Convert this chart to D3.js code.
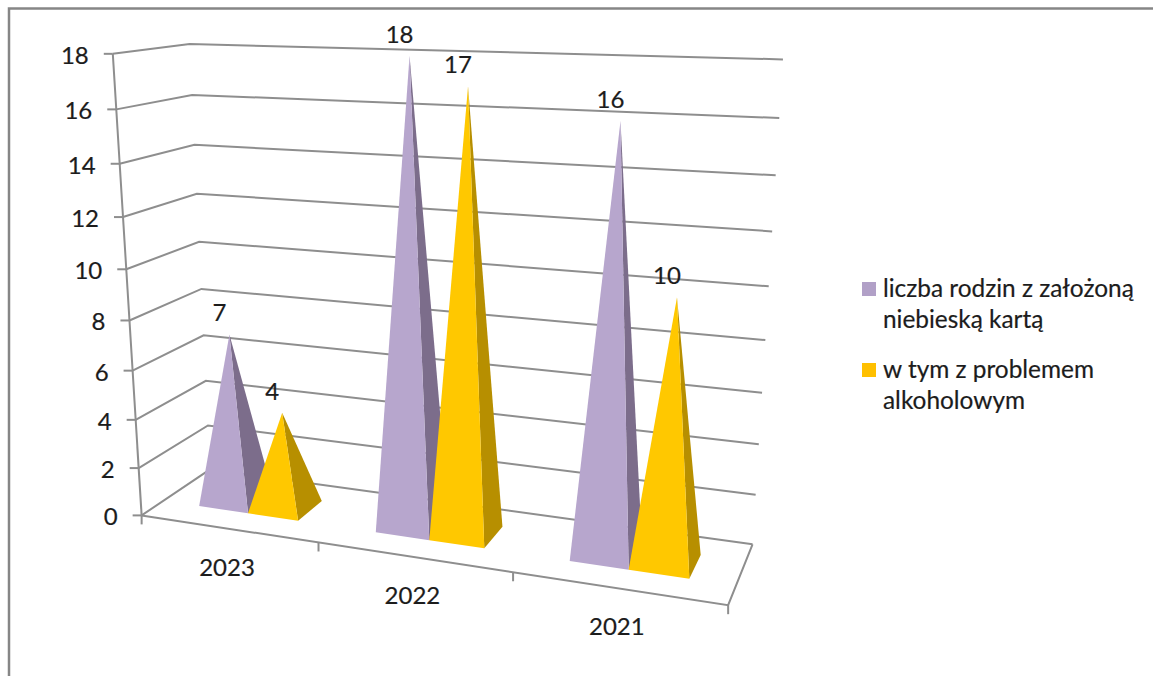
<!DOCTYPE html>
<html>
<head>
<meta charset="utf-8">
<script src="https://cdn.jsdelivr.net/npm/d3@7"></script>
<style>
body { margin: 0; background: #fff; }
svg { display: block; }
text { font-family: Lato, "Noto Sans", sans-serif; fill: #1c1c1c; stroke: #1c1c1c; stroke-width: 0.2px; }
</style>
</head>
<body>
<div id="chart-area"></div>
<script>
let width = 1153, height = 676;

// data
let categories = ["2023", "2022", "2021"];
let seriesNames = ["liczba rodzin z założoną niebieską kartą", "w tym z problemem alkoholowym"];
let rodziny = [7, 18, 16];
let alkohol = [4, 17, 10];
let yTicks = [0, 2, 4, 6, 8, 10, 12, 14, 16, 18];
let legendLines = [["liczba rodzin z założoną", "niebieską kartą"], ["w tym z problemem", "alkoholowym"]];

let frontColors = ["#b7a6cd", "#ffc800"];
let sideColors = ["#7c6d8b", "#b78f00"];
let legendColors = ["#b1a0c7", "#ffc000"];
let gridColor = "#8e8e8e";

let svg = d3.select("#chart-area").append("svg")
    .attr("width", width)
    .attr("height", height);

// scales work in box units, 0..1 on each side of the 3d box
let x0 = d3.scaleBand().domain(categories).range([0, 1]);
let x1 = d3.scaleBand().domain(d3.range(2)).range([0, x0.bandwidth()]).paddingOuter(0.75);
let y = d3.scaleLinear().domain([0, 18]).range([0, 1]);
let z = d3.scaleLinear().domain([0, 1]).range([0.3, 0.7]);

// where the box sits on the page: [x, y, z, screenX, screenY]
let calib = [
    [0, 0, 0, 142, 515], [0, 1, 0, 113, 54], [0, 8 / 18, 0, 129, 320],
    [0, 0, 1, 211, 470], [0, 1, 1, 190, 44], [0, 8 / 18, 1, 200, 289],
    [1, 0, 1, 752, 544], [1, 1, 1, 783, 60], [1, 8 / 18, 1, 766, 339],
    [1, 0, 0, 728, 606]
];

// least squares fit of the 3x4 camera matrix
function fitCamera(pts) {
    let n = 11, A = d3.range(n).map(() => new Array(n + 1).fill(0));
    function add(row, rhs) {
        for (let i = 0; i < n; i++) {
            for (let j = 0; j < n; j++) A[i][j] += row[i] * row[j];
            A[i][n] += row[i] * rhs;
        }
    }
    pts.forEach(([a, b, c, u, v]) => {
        add([a, b, c, 1, 0, 0, 0, 0, -u * a, -u * b, -u * c], u);
        add([0, 0, 0, 0, a, b, c, 1, -v * a, -v * b, -v * c], v);
    });
    for (let i = 0; i < n; i++) {
        let p = i;
        for (let r = i + 1; r < n; r++) if (Math.abs(A[r][i]) > Math.abs(A[p][i])) p = r;
        [A[i], A[p]] = [A[p], A[i]];
        for (let r = 0; r < n; r++) {
            if (r === i) continue;
            let f = A[r][i] / A[i][i];
            for (let c = i; c <= n; c++) A[r][c] -= f * A[i][c];
        }
    }
    return A.map((row, i) => row[n] / row[i]);
}
let m = fitCamera(calib);

function project(a, b, c) {
    let w = m[8] * a + m[9] * b + m[10] * c + 1;
    return [(m[0] * a + m[1] * b + m[2] * c + m[3]) / w, (m[4] * a + m[5] * b + m[6] * c + m[7]) / w];
}

function line(pts, g) {
    g.append("path")
        .attr("d", d3.line()(pts))
        .attr("fill", "none")
        .attr("stroke", gridColor)
        .attr("stroke-width", 2);
}

// outer frame
svg.append("path")
    .attr("d", "M9,676V8.5H1153")
    .attr("fill", "none")
    .attr("stroke", "#868686")
    .attr("stroke-width", 2.5);

let grid = svg.append("g");

// walls
yTicks.forEach(t => {
    line([project(0, y(t), 0), project(0, y(t), 1), project(1, y(t), 1)], grid);
    let p = project(0, y(t), 0);
    line([[p[0] - 9, p[1]], p], grid);
    svg.append("text")
        .attr("x", p[0] - 24)
        .attr("y", p[1] + 10)
        .attr("text-anchor", "end")
        .attr("font-size", 24)
        .text(t);
});

// left axis and floor
line([project(0, 0, 0), project(0, 1, 0)], grid);
line([project(0, 0, 0), project(1, 0, 0), project(1, 0, 1)], grid);

// category ticks and labels
d3.range(4).forEach(i => {
    let p = project(i / 3, 0, 0);
    line([p, [p[0], p[1] + 9]], grid);
});
categories.forEach(c => {
    let p = project(x0(c) + x0.bandwidth() / 2, 0, 0);
    svg.append("text")
        .attr("x", p[0] - 1)
        .attr("y", p[1] + 47)
        .attr("text-anchor", "middle")
        .attr("font-size", 24)
        .text(c);
});

// pyramids
let marks = svg.append("g");
let labels = svg.append("g");
[rodziny, alkohol].forEach((values, s) => {
    values.forEach((v, i) => {
        let left = x0(categories[i]) + x1(s), right = left + x1.bandwidth();
        let apex = project((left + right) / 2, y(v), z(0.5));
        let fl = project(left, 0, z(0)), fr = project(right, 0, z(0)), br = project(right, 0, z(1));
        marks.append("polygon")
            .attr("points", [fr, br, apex].join(" "))
            .attr("fill", sideColors[s]);
        marks.append("polygon")
            .attr("points", [fl, fr, apex].join(" "))
            .attr("fill", frontColors[s]);
        labels.append("text")
            .attr("x", apex[0] - 10)
            .attr("y", apex[1] - 13)
            .attr("text-anchor", "middle")
            .attr("font-size", 24)
            .text(v);
    });
});

// legend
let legendY = [[297, 328], [378, 409]];
seriesNames.forEach((name, s) => {
    svg.append("rect")
        .attr("x", 862)
        .attr("y", legendY[s][0] - 15)
        .attr("width", 14)
        .attr("height", 14)
        .attr("fill", legendColors[s]);
    legendLines[s].forEach((txt, k) => {
        svg.append("text")
            .attr("x", 883)
            .attr("y", legendY[s][k])
            .attr("font-size", 24.4)
            .text(txt);
    });
});
</script>
</body>
</html>
